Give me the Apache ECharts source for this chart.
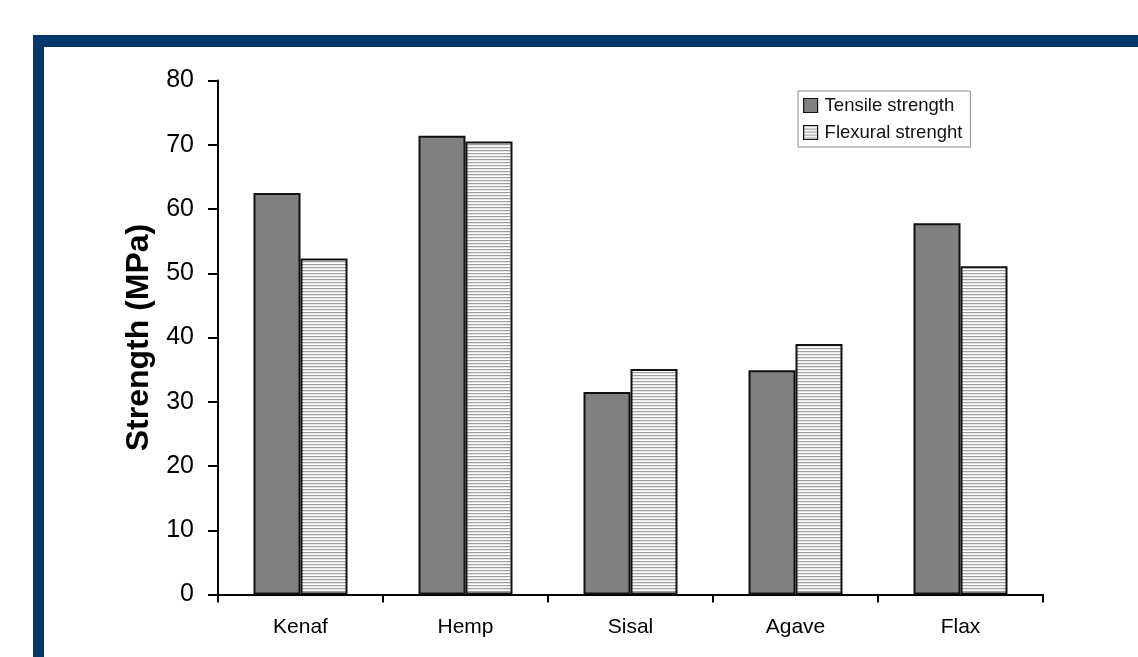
<!DOCTYPE html>
<html>
<head>
<meta charset="utf-8">
<style>
  html, body { margin: 0; padding: 0; background: #ffffff; }
  #chart { width: 1138px; height: 657px; }
</style>
<script src="https://cdn.jsdelivr.net/npm/echarts@6/dist/echarts.min.js"></script>
</head>
<body>
<div id="chart"></div>
<script>
// Fibre types along the x axis
const categories = ['Kenaf', 'Hemp', 'Sisal', 'Agave', 'Flax'];
// Strength values in MPa
const tensileStrength = [62.5, 71.4, 31.5, 34.9, 57.8];
const flexuralStrength = [52.3, 70.5, 35.1, 39.0, 51.1];
// Y axis range and step
const yMin = 0;
const yMax = 80;
const yStep = 10;

const FONT = '"Liberation Sans", Arial, sans-serif';

// Horizontal stripe fill for the flexural bars
function stripePattern() {
  const c = document.createElement('canvas');
  c.width = 4;
  c.height = 3;
  const ctx = c.getContext('2d');
  ctx.fillStyle = '#ffffff';
  ctx.fillRect(0, 0, 4, 3);
  ctx.fillStyle = '#a0a0a0';
  ctx.fillRect(0, 0, 4, 1);
  ctx.fillStyle = '#e6e6e6';
  ctx.fillRect(0, 1, 4, 1);
  return c;
}
const stripes = { image: stripePattern(), repeat: 'repeat' };

const chart = echarts.init(document.getElementById('chart'), null, { renderer: 'canvas' });

chart.setOption({
  animation: false,
  backgroundColor: '#ffffff',
  textStyle: { fontFamily: FONT },
  graphic: [
    // dark blue frame along the top and left edges
    { type: 'rect', shape: { x: 33, y: 35, width: 1105, height: 12 }, style: { fill: '#03386b' }, z: 10 },
    { type: 'rect', shape: { x: 33, y: 35, width: 11, height: 622 }, style: { fill: '#03386b' }, z: 10 }
  ],
  legend: {
    orient: 'vertical',
    left: 798,
    top: 91,
    padding: [5, 8, 5, 5],
    itemGap: 8,
    itemWidth: 14,
    itemHeight: 14,
    borderColor: '#8a8a8a',
    borderWidth: 1,
    backgroundColor: '#ffffff',
    itemStyle: { borderColor: '#111111', borderWidth: 1.2 },
    textStyle: { fontFamily: FONT, fontSize: 18.5, color: '#111111', padding: [0, 0, 0, 2] },
    data: [
      { name: 'Tensile strength', icon: 'rect' },
      { name: 'Flexural strenght', icon: 'rect' }
    ]
  },
  grid: {
    left: 218,
    right: 95,
    top: 80.5,
    bottom: 62.5,
    containLabel: false
  },
  xAxis: {
    type: 'category',
    data: categories,
    boundaryGap: true,
    axisLine: { lineStyle: { color: '#000000', width: 2 } },
    axisTick: { show: true, length: 8, inside: false, lineStyle: { color: '#000000', width: 2 } },
    axisLabel: { fontFamily: FONT, fontSize: 21, color: '#000000', margin: 22 },
    splitLine: { show: false }
  },
  yAxis: {
    type: 'value',
    min: yMin,
    max: yMax,
    interval: yStep,
    name: 'Strength (MPa)',
    nameLocation: 'middle',
    nameGap: 61,
    nameRotate: 90,
    nameTextStyle: { fontFamily: FONT, fontSize: 32, fontWeight: 'bold', color: '#000000' },
    axisLine: { show: true, lineStyle: { color: '#000000', width: 2 } },
    axisTick: { show: true, length: 10, lineStyle: { color: '#000000', width: 2 } },
    axisLabel: { fontFamily: FONT, fontSize: 25, color: '#000000', margin: 24 },
    splitLine: { show: false }
  },
  series: [
    {
      name: 'Tensile strength',
      type: 'bar',
      data: tensileStrength,
      barWidth: 47,
      barGap: '0%',
      itemStyle: { color: '#808080', borderColor: '#111111', borderWidth: 2 }
    },
    {
      name: 'Flexural strenght',
      type: 'bar',
      data: flexuralStrength,
      barWidth: 47,
      barGap: '0%',
      itemStyle: { color: stripes, borderColor: '#111111', borderWidth: 2 }
    }
  ]
});
</script>
</body>
</html>
